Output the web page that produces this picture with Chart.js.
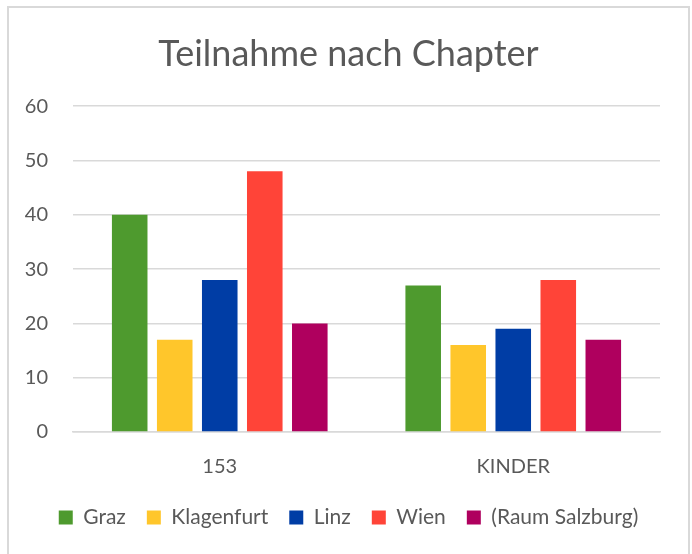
<!DOCTYPE html>
<html lang="de">
<head>
  <meta charset="UTF-8">
  <title>Teilnahme nach Chapter</title>
  <script src="https://cdn.jsdelivr.net/npm/chart.js@4.4.0/dist/chart.umd.min.js"></script>
  <style>
    html, body { margin: 0; padding: 0; background: #fff; overflow: hidden; }
    #frame { position: absolute; left: 7px; top: 6px; width: 679px; height: 570px; border: 2px solid #d9d9d9; }
    #box { position: relative; width: 679px; height: 546px; }
  </style>
</head>
<body>
<div id="frame">
  <div id="box"><canvas id="cChart"></canvas></div>
</div>
<script>
const categories = ['153', 'KINDER'];
const seriesNames = ['Graz', 'Klagenfurt', 'Linz', 'Wien', '(Raum Salzburg)'];
const graz = [40, 27];
const klagenfurt = [17, 16];
const linz = [28, 19];
const wien = [48, 28];
const salzburg = [20, 17];
const yTicks = [0, 10, 20, 30, 40, 50, 60];

const colors = ['#4E9A2E', '#FFC62B', '#003DA5', '#FF4438', '#AF005E'];
const values = [graz, klagenfurt, linz, wien, salzburg];
const textColor = '#595959';
const font = 'Lato, "Open Sans", sans-serif';

const data = {
  labels: categories,
  datasets: seriesNames.map((name, i) => ({
    label: name,
    data: values[i],
    backgroundColor: colors[i],
    borderWidth: 0,
    categoryPercentage: 0.767,
    barPercentage: 0.79
  }))
};

const config = {
  type: 'bar',
  data: data,
  options: {
    responsive: true,
    maintainAspectRatio: false,
    animation: false,
    layout: { padding: { top: 25, left: 0, right: 0, bottom: 16 } },
    plugins: {
      title: {
        display: true,
        text: 'Teilnahme nach Chapter',
        color: textColor,
        font: { family: font, size: 36, weight: 'normal' },
        padding: { top: 0, bottom: 30 }
      },
      legend: {
        position: 'bottom',
        padding: 4,
        labels: {
          color: textColor,
          font: { family: font, size: 21 },
          boxWidth: 14,
          boxHeight: 14,
          padding: 21
        }
      },
      tooltip: { enabled: false }
    },
    scales: {
      x: {
        grid: { display: false, drawTicks: false },
        border: { display: true, color: '#d9d9d9', width: 1.5 },
        ticks: { color: textColor, font: { family: font, size: 20 }, padding: 23 },
        afterFit: s => { s.height = 54; }
      },
      y: {
        min: 0,
        max: 60,
        afterBuildTicks: s => { s.ticks = yTicks.map(v => ({ value: v })); },
        afterFit: s => { s.width = 64; },
        grid: { color: '#d9d9d9', lineWidth: 1.5, drawTicks: false },
        border: { display: false },
        ticks: { color: textColor, font: { family: font, size: 20 }, padding: 25 }
      },
      yRight: {
        position: 'right',
        min: 0,
        max: 60,
        grid: { display: false, drawTicks: false },
        border: { display: false },
        ticks: { display: false },
        afterFit: s => { s.width = 28; }
      }
    }
  }
};

const cChart = new Chart(document.getElementById('cChart'), config);
</script>
</body>
</html>
